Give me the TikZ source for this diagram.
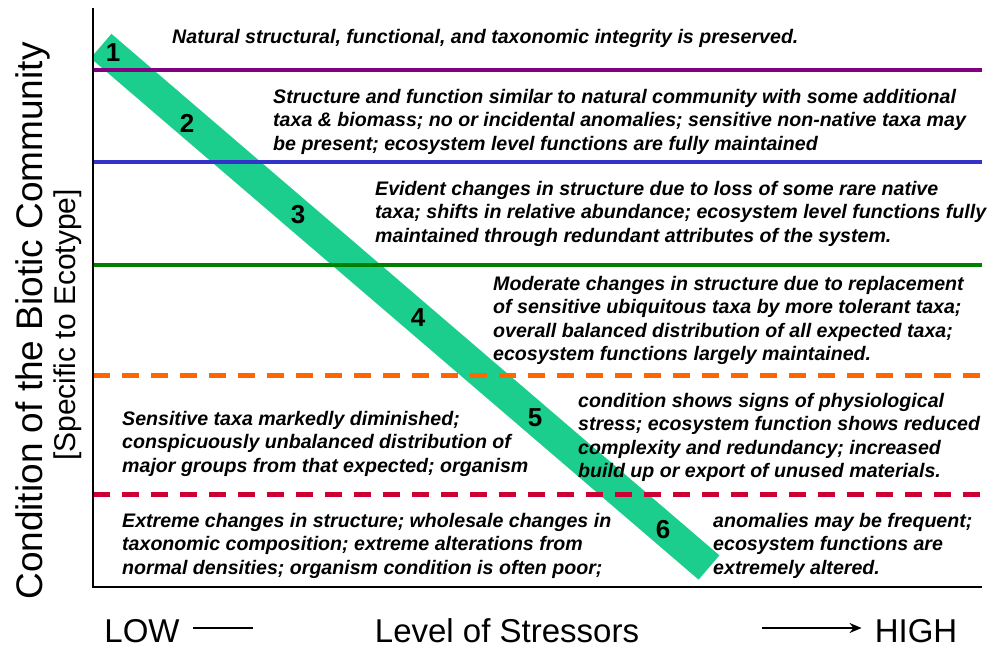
\documentclass[tikz,border=0pt]{standalone}
\usepackage{fontspec}
\setmainfont{Liberation Sans}
\usetikzlibrary{arrows.meta}

\definecolor{bandgreen}{RGB}{28,206,142}
\definecolor{linepurple}{RGB}{128,0,128}
\definecolor{lineblue}{RGB}{51,51,204}
\definecolor{linegreen}{RGB}{0,128,0}
\definecolor{lineorange}{RGB}{255,102,0}
\definecolor{linecrimson}{RGB}{204,0,51}

\tikzset{
  band/.style={draw=bandgreen, line width=32pt},
  boundary/.style={line width=4pt},
  dashboundary/.style={line width=5pt, dash pattern=on 17pt off 12pt},
  axisline/.style={line width=2.5pt},
  desc/.style={anchor=north west, inner sep=0pt, align=left,
    font=\fontsize{19.6}{23.3}\selectfont\bfseries\itshape},
  levelnum/.style={inner sep=0pt, font=\fontsize{26}{30}\selectfont\bfseries},
  bottomlabel/.style={anchor=base, inner sep=0pt, font=\fontsize{33}{38}\selectfont}
}

\begin{document}
\begin{tikzpicture}[x=1pt, y=-1pt]
  \useasboundingbox (0,0) rectangle (994,650);

  % Green band
  \begin{scope}
    \clip (93,0) rectangle (994,650);
    \coordinate (bandtop) at (101,46);
    \coordinate (bandbot) at (709,567.5);
    \draw[band] (bandtop) -- (bandbot);
  \end{scope}

  % Class boundaries
  \foreach \yy/\col in {70/linepurple, 162/lineblue, 265/linegreen}
    \draw[boundary, draw=\col] (93,\yy) -- (982,\yy);
  \foreach \yy/\col in {375/lineorange, 494/linecrimson}
    \draw[dashboundary, draw=\col] (93,\yy) -- (982,\yy);

  % Axes
  \draw[axisline] (93,8) -- (93,587) -- (982,587);

  % Level numbers
  \foreach \n/\xx/\yy in {1/113/53, 2/187/123, 3/298/215, 4/418/318, 5/535/418, 6/663/530}
    \node[levelnum] (num\n) at (\xx,\yy) {\n};

  % Descriptions
  \node[desc] (natural) at (172,29) {Natural structural, functional, and taxonomic integrity is preserved.};
  \node[desc] (similar) at (273,89) {Structure and function similar to natural community with some additional\\
    taxa \& biomass; no or incidental anomalies; sensitive non-native taxa may\\
    be present; ecosystem level functions are fully maintained};
  \node[desc] (evident) at (375,181) {Evident changes in structure due to loss of some rare native\\
    taxa; shifts in relative abundance; ecosystem level functions fully\\
    maintained through redundant attributes of the system.};
  \node[desc] (moderate) at (493,276) {Moderate changes in structure due to replacement\\
    of sensitive ubiquitous taxa by more tolerant taxa;\\
    overall balanced distribution of all expected taxa;\\
    ecosystem functions largely maintained.};
  \node[desc] (sensitive) at (122,411) {Sensitive taxa markedly diminished;\\
    conspicuously unbalanced distribution of\\
    major groups from that expected; organism};
  \node[desc] (physio) at (578,393) {condition shows signs of physiological\\
    stress; ecosystem function shows reduced\\
    complexity and redundancy; increased\\
    build up or export of unused materials.};
  \node[desc] (extreme) at (122,513) {Extreme changes in structure; wholesale changes in\\
    taxonomic composition; extreme alterations from\\
    normal densities; organism condition is often poor;};
  \node[desc] (altered) at (713,513) {anomalies may be frequent;\\
    ecosystem functions are\\
    extremely altered.};

  % Axis labels
  \node[rotate=90, inner sep=0pt, font=\fontsize{37}{40}\selectfont] (condition) at (33,321) {Condition of the Biotic Community};
  \node[rotate=90, inner sep=0pt, font=\fontsize{30}{32}\selectfont] (ecotype) at (68,325) {[Specific to Ecotype]};
  \node[bottomlabel] (low) at (142,642) {LOW};
  \node[bottomlabel] (stressors) at (507,642) {Level of Stressors};
  \node[bottomlabel] (high) at (916,642) {HIGH};

  % Stressor arrow
  \coordinate (lowtail) at (193,628);
  \coordinate (lowhead) at (253,628);
  \coordinate (hightail) at (762,628);
  \draw[line width=2pt] (lowtail) -- (lowhead);
  \draw[line width=2pt, -{Stealth[length=12pt, width=10pt]}, shorten >=13pt] (hightail) -- (hightail -| high.west);
\end{tikzpicture}
\end{document}
